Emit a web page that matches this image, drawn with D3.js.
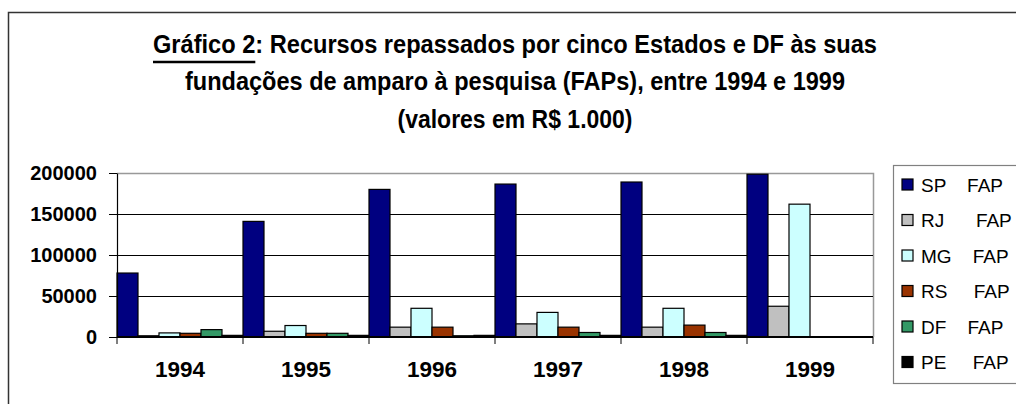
<!DOCTYPE html>
<html>
<head>
<meta charset="utf-8">
<script src="https://cdn.jsdelivr.net/npm/d3@7"></script>
<style>
  body { margin: 0; background: #fff; }
  svg { display: block; }
</style>
</head>
<body>
<div id="chart"></div>
<script>
// data (valores em R$ 1.000)
var years = ["1994", "1995", "1996", "1997", "1998", "1999"];
var states = ["SP", "RJ", "MG", "RS", "DF", "PE"];
var legendLabels = ["SP    FAP", "RJ      FAP", "MG    FAP", "RS     FAP", "DF    FAP", "PE     FAP"];
var colors = ["#000080", "#C0C0C0", "#CCFFFF", "#993300", "#339966", "#000000"];

var sp = [78000, 141000, 180000, 186500, 189000, 198500];
var rj = [1500, 7000, 12000, 16000, 12000, 37500];
var mg = [5000, 14000, 35000, 30000, 35000, 162000];
var rs = [4500, 4500, 12000, 12000, 14500, 0];
var df = [9000, 4500, 1500, 5500, 5500, 0];
var pe = [2000, 2000, 2000, 2000, 2000, 0];

var yTicks = [0, 50000, 100000, 150000, 200000];
var titleLines = [
  "Gráfico 2: Recursos repassados por cinco Estados e DF às suas",
  "fundações de amparo à pesquisa (FAPs), entre 1994 e 1999",
  "(valores em R$ 1.000)"
];

var series = [sp, rj, mg, rs, df, pe];

var width = 1016, height = 404;
var plot = {left: 117, right: 873, top: 173, bottom: 337};

var svg = d3.select("#chart").append("svg")
  .attr("width", width)
  .attr("height", height);

// outer frame of the chart object (runs past the window edge)
svg.append("rect")
  .attr("x", 8.5).attr("y", 12.5)
  .attr("width", 1100).attr("height", 500)
  .attr("fill", "none")
  .attr("stroke", "#333")
  .attr("stroke-width", 1.5);

// title, condensed bold look
var titleFont = "'Liberation Sans Narrow', 'Arial Narrow', 'Liberation Sans', Arial, sans-serif";
var titleWidths = [724, 660, 235];
var titleY = [53, 90, 128];
var title = svg.append("g").attr("class", "title");
titleLines.forEach(function(line, i) {
  var t = title.append("text")
    .attr("x", 515)
    .attr("y", titleY[i])
    .attr("text-anchor", "middle")
    .style("font-family", titleFont)
    .style("font-weight", "bold")
    .style("font-size", "25px")
    .text(line);
  var w = t.node().getComputedTextLength();
  var k = 1;
  if (Math.abs(w - titleWidths[i]) > 4) {
    k = titleWidths[i] / w;
    t.attr("textLength", titleWidths[i]).attr("lengthAdjust", "spacingAndGlyphs");
  }
  if (i == 0) {
    // underline under "Gráfico 2"
    var sub = t.node().getSubStringLength(0, 9);
    if (k != 1 && Math.abs(sub * k - sub) > 1 && sub > 0) {
      // substring length may be reported unscaled
      var probe = sub;
      sub = probe > titleWidths[0] * 0.2 ? probe * k : probe;
    }
    var xs = 515 - titleWidths[0] / 2;
    title.append("line")
      .attr("x1", xs).attr("x2", xs + sub)
      .attr("y1", 62).attr("y2", 62)
      .attr("stroke", "#000")
      .attr("stroke-width", 2.5);
  }
});

// scales
var x0 = d3.scaleBand().domain(years).range([plot.left, plot.right]).padding(0);
var x1 = d3.scaleBand().domain(states).range([0, x0.bandwidth()]).padding(0);
var y = d3.scaleLinear().domain([0, 200000]).range([plot.bottom, plot.top]);

// plot frame: gray top and right
svg.append("path")
  .attr("d", "M" + plot.left + "," + (plot.top + 0.5) + "H" + (plot.right + 0.5) + "V" + plot.bottom)
  .attr("fill", "none")
  .attr("stroke", "#999")
  .attr("stroke-width", 1.5);

// gridlines
svg.append("g").attr("class", "grid")
  .selectAll("line")
  .data(yTicks.filter(function(d) { return d > 0 && d < 200000; }))
  .enter().append("line")
  .attr("x1", plot.left).attr("x2", plot.right)
  .attr("y1", function(d) { return Math.round(y(d)) + 0.5; })
  .attr("y2", function(d) { return Math.round(y(d)) + 0.5; })
  .attr("stroke", "#000")
  .attr("stroke-width", 1);

// bars
var groups = svg.append("g").attr("class", "bars")
  .selectAll("g")
  .data(years)
  .enter().append("g")
  .attr("transform", function(d) { return "translate(" + x0(d) + ",0)"; });

groups.selectAll("rect")
  .data(function(d, i) {
    return states.map(function(s, j) { return {state: s, value: series[j][i], color: colors[j]}; });
  })
  .enter().append("rect")
  .filter(function(d) { return d.value > 0; })
  .attr("x", function(d) { return x1(d.state); })
  .attr("y", function(d) { return y(d.value); })
  .attr("width", x1.bandwidth())
  .attr("height", function(d) { return y(0) - y(d.value); })
  .attr("fill", function(d) { return d.color; })
  .attr("stroke", "#000")
  .attr("stroke-width", 1.2);

// y axis
var yAxis = svg.append("g")
  .attr("class", "y-axis")
  .attr("transform", "translate(" + plot.left + ",0)")
  .call(d3.axisLeft(y).tickValues(yTicks).tickFormat(d3.format("d")).tickSize(8).tickSizeOuter(0).tickPadding(12));
yAxis.select(".domain").attr("stroke", "#000").attr("stroke-width", 1.2);
yAxis.selectAll(".tick line").attr("stroke", "#000");
yAxis.selectAll("text")
  .style("font-family", "'Liberation Sans', Arial, sans-serif")
  .style("font-weight", "bold")
  .style("font-size", "20px")
  .attr("fill", "#000");

// x axis: labels centred, ticks on category edges
var xAxis = svg.append("g")
  .attr("class", "x-axis")
  .attr("transform", "translate(0," + plot.bottom + ")")
  .call(d3.axisBottom(x0).tickSize(0).tickPadding(24));
xAxis.select(".domain").remove();
xAxis.selectAll("text")
  .style("font-family", "'Liberation Sans', Arial, sans-serif")
  .style("font-weight", "bold")
  .style("font-size", "22.5px")
  .attr("fill", "#000");

var edges = years.map(function(d) { return x0(d); }).concat([plot.right]);
xAxis.selectAll(".edge")
  .data(edges)
  .enter().append("line")
  .attr("class", "edge")
  .attr("x1", function(d) { return d; }).attr("x2", function(d) { return d; })
  .attr("y1", 0).attr("y2", 7)
  .attr("stroke", "#000");

svg.append("line")
  .attr("x1", plot.left).attr("x2", plot.right)
  .attr("y1", plot.bottom).attr("y2", plot.bottom)
  .attr("stroke", "#000")
  .attr("stroke-width", 2);

// legend
svg.append("clipPath").attr("id", "clip-legend")
  .append("rect").attr("x", 0).attr("y", 0).attr("width", width).attr("height", height);

var legend = svg.append("g").attr("class", "legend").attr("clip-path", "url(#clip-legend)");
legend.append("rect")
  .attr("x", 893.5).attr("y", 165.5)
  .attr("width", 200).attr("height", 218)
  .attr("fill", "#fff")
  .attr("stroke", "#808080")
  .attr("stroke-width", 1.2);

var item = legend.selectAll(".item")
  .data(states)
  .enter().append("g")
  .attr("class", "item")
  .attr("transform", function(d, i) { return "translate(902," + (184.5 + i * 35.5) + ")"; });

item.append("rect")
  .attr("x", 0).attr("y", -5.5)
  .attr("width", 11).attr("height", 11)
  .attr("fill", function(d, i) { return colors[i]; })
  .attr("stroke", "#000")
  .attr("stroke-width", 1.2);

item.append("text")
  .attr("x", 19)
  .attr("y", 7)
  .style("white-space", "pre")
  .attr("xml:space", "preserve")
  .style("font-family", "'Liberation Sans', Arial, sans-serif")
  .style("font-size", "19px")
  .attr("fill", "#000")
  .text(function(d, i) { return legendLabels[i]; });
</script>
</body>
</html>
